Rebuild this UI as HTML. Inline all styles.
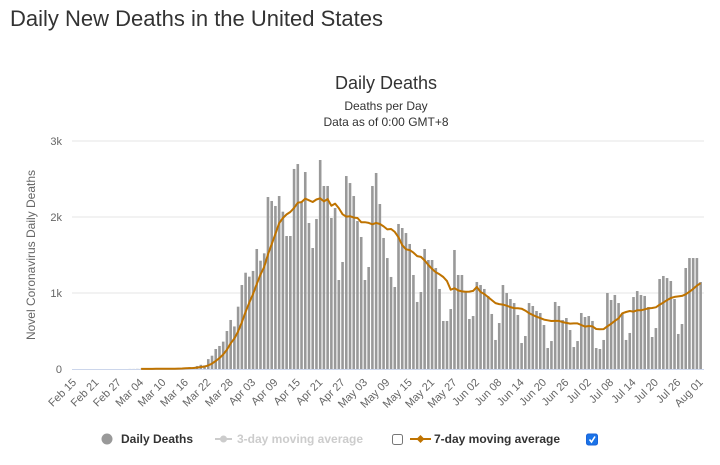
<!DOCTYPE html>
<html><head><meta charset="utf-8"><style>
body{margin:0;background:#fff;font-family:"Liberation Sans",sans-serif;}
#wrap{position:relative;width:720px;height:465px;overflow:hidden}
h1{position:absolute;left:10px;top:6px;margin:0;font-size:22px;font-weight:normal;color:#333}
svg{position:absolute;left:0;top:0}
</style></head><body><div id="wrap">
<h1>Daily New Deaths in the United States</h1>
<svg id="chart" width="720" height="465" font-family="Liberation Sans, sans-serif"></svg>
</div>
<script>
const startDate = new Date(2020,1,15);
const deaths = [0,0,0,0,0,0,0,0,0,0,0,0,0,0,0,1,1,2,3,1,2,3,4,3,4,8,3,7,10,12,17,23,23,40,55,48,
130,175,263,303,360,500,645,560,820,1105,1267,1215,1290,1579,1425,1522,2263,2211,2145,2276,2070,1750,1750,2632,2697,2200,2592,1921,1592,1974,2750,2408,2408,1987,2118,1171,1408,2539,2447,2276,1947,1737,1171,1342,2408,2579,
2171,1724,1460,1211,1079,1908,1855,1789,1645,1237,882,1013,1579,1434,1434,1329,1053,632,632,789,1566,1237,1237,1013,658,697,1145,1105,1053,961,724,382,605,1105,1000,921,868,711,342,434,868,829,763,
737,579,276,368,882,829,645,671,513,289,368,737,684,697,632,276,263,382,1000,908,974,868,737,382,474,947,1026,974,961,816,421,539,1184,1224,1197,1158,921,461,592,1329,1460,1460,1460,1145];
const yTicks = [0,1000,2000,3000];
const yTickLabels = ["0","1k","2k","3k"];
const avgStart = 18;

const NS="http://www.w3.org/2000/svg";
const svg=document.getElementById('chart');
const x0=74, dx=3.73, yBase=369, pxPerK=76;
const X=i=>x0+i*dx;
const Y=v=>yBase-v/1000*pxPerK;
function el(tag,attrs,parent){const e=document.createElementNS(NS,tag);for(const k in attrs)e.setAttribute(k,attrs[k]);(parent||svg).appendChild(e);return e;}
function txt(s,attrs){const t=el('text',attrs);t.textContent=s;return t;}

let t;
t=txt("Daily Deaths",{x:386,y:89,'text-anchor':'middle','font-size':18,fill:'#333'});


t=txt("Deaths per Day",{x:386,y:110,'text-anchor':'middle','font-size':12,fill:'#333'});


t=txt("Data as of 0:00 GMT+8",{x:386,y:126,'text-anchor':'middle','font-size':12,fill:'#333'});



yTicks.forEach((v,k)=>{
  if(v>0){const g=el('line',{x1:72,x2:704,y1:Y(v),y2:Y(v),stroke:'#e6e6e6','stroke-width':1});
  
  }
  const l=txt(yTickLabels[k],{x:62,y:Y(v)+4,'text-anchor':'end','font-size':11,fill:'#666'});
  
  
});
t=txt("Novel Coronavirus Daily Deaths",{x:0,y:0,'text-anchor':'middle','font-size':12,fill:'#666',transform:'translate(35,255) rotate(-90)'});



deaths.forEach((v,i)=>{
  if(v<=0)return;
  const b=el('rect',{x:X(i)-1.3,y:Y(v),width:2.6,height:yBase-Y(v),fill:'#999'});
  
  
});
const ax=el('line',{x1:72,x2:704,y1:yBase+0.5,y2:yBase+0.5,stroke:'#ccd6eb','stroke-width':1});



// 7-day moving average
let pts=[];
for(let i=avgStart;i<deaths.length;i++){
  let s=0,n=0;for(let j=Math.max(0,i-6);j<=i;j++){s+=deaths[j];n++;}
  pts.push(X(i).toFixed(1)+','+Y(s/n).toFixed(1));
}
const line=el('polyline',{points:pts.join(' '),fill:'none',stroke:'#bf7300','stroke-width':2,'stroke-linejoin':'round'});



for(let i=0;i<deaths.length;i+=6){
  const d=new Date(startDate.getTime()+i*86400000);
  const mon=["Jan","Feb","Mar","Apr","May","Jun","Jul","Aug"][d.getMonth()];
  const lab=mon+" "+String(d.getDate()).padStart(2,'0');
  const tx=X(i)+3, ty=yBase+14;
  const l=txt(lab,{x:tx,y:ty,'text-anchor':'end','font-size':11,fill:'#666',transform:`rotate(-45 ${tx} ${ty})`});
  
  
}

// legend
const lg=el('g',{});


let c=el('circle',{cx:107,cy:439,r:5.5,fill:'#999'},lg);


t=txt("Daily Deaths",{x:121,y:443,'font-size':12,'font-weight':'bold',fill:'#333'});


el('line',{x1:215,x2:232,y1:439,y2:439,stroke:'#ccc','stroke-width':2},lg);
el('circle',{cx:223.5,cy:439,r:3.5,fill:'#ccc'},lg);
t=txt("3-day moving average",{x:237,y:443,'font-size':12,'font-weight':'bold',fill:'#ccc'});


let cb=el('rect',{x:392.5,y:434.5,width:10,height:10,rx:2,fill:'#fff',stroke:'#777'});


el('line',{x1:410,x2:431,y1:439,y2:439,stroke:'#bf7300','stroke-width':2},lg);
el('path',{d:'M420.5 435 L424.5 439 L420.5 443 L416.5 439 Z',fill:'#bf7300'},lg);
t=txt("7-day moving average",{x:434,y:443,'font-size':12,'font-weight':'bold',fill:'#333'});


cb=el('rect',{x:586.5,y:434,width:11,height:11,rx:2,fill:'#1a73e8',stroke:'#1a63d8'});


el('path',{d:'M589.5 439.5 L591.5 442 L595 436.5',fill:'none',stroke:'#fff','stroke-width':1.6});
</script></body></html>
